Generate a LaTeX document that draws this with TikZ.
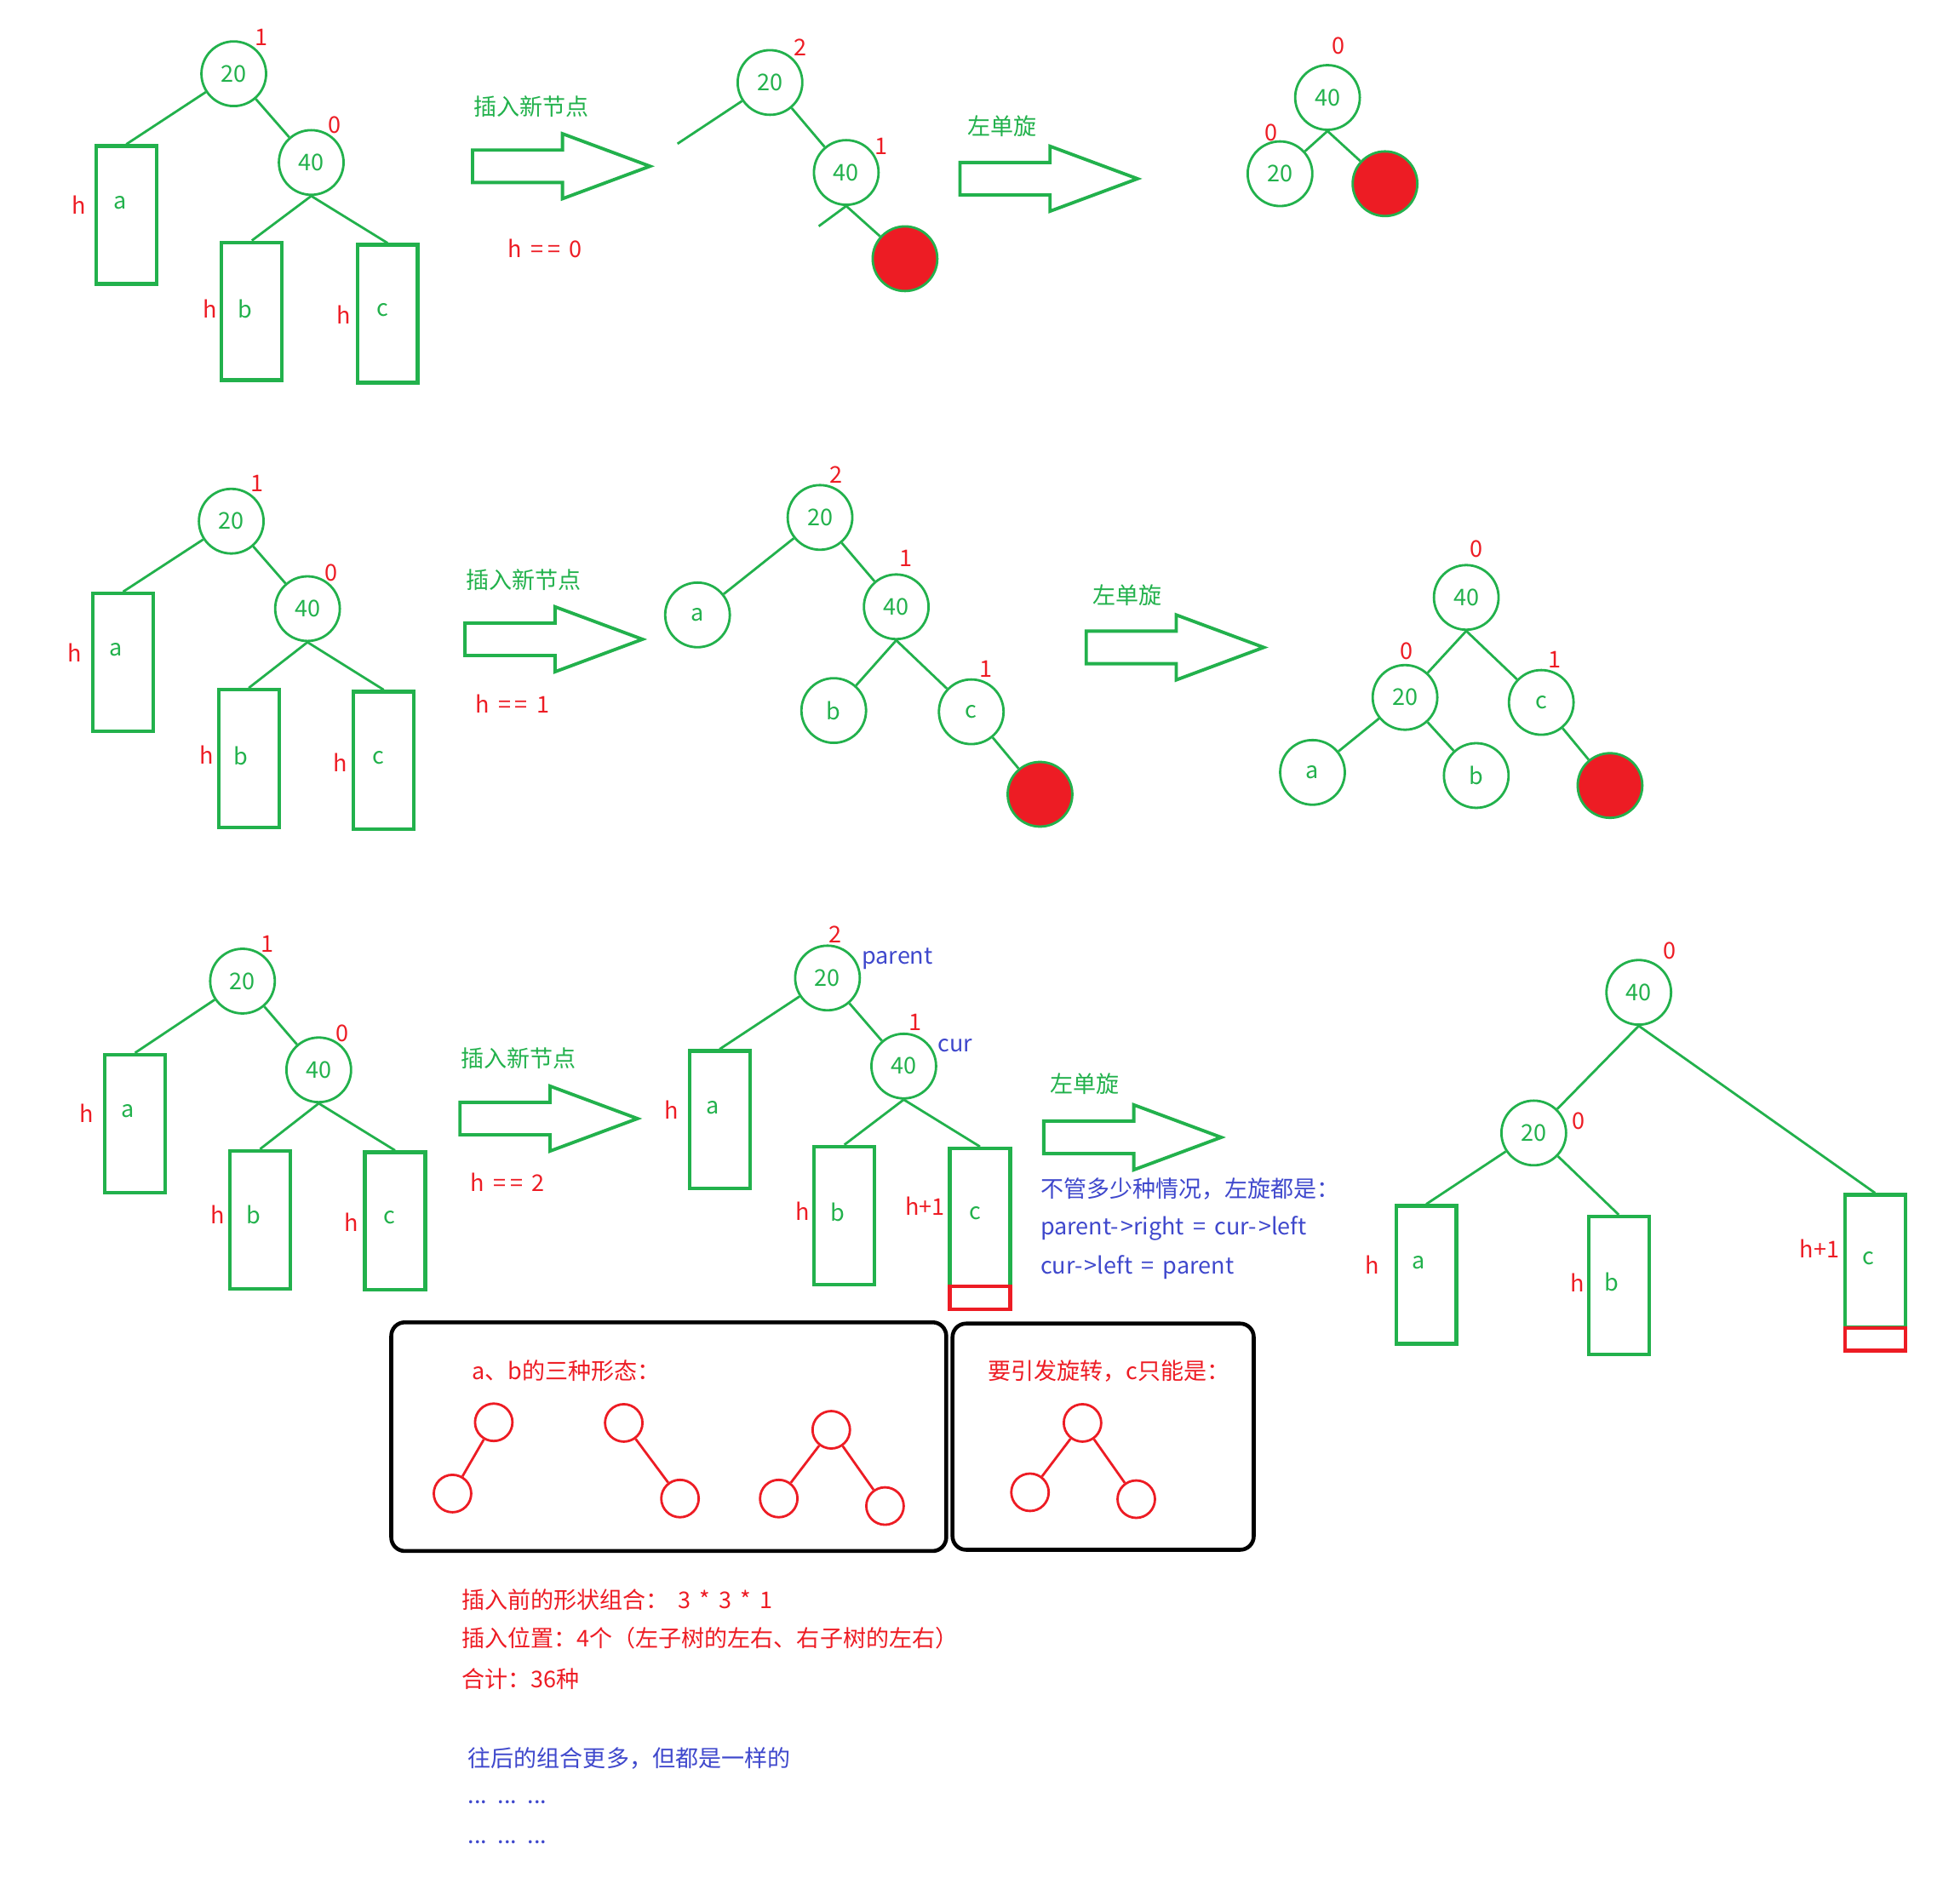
\documentclass[tikz,border=0pt]{standalone}
\usepackage{fontspec}
\setmainfont[WordSpace=1.7]{Noto Sans CJK SC}
\usepackage{xcolor}
\usepackage{tikz}
\definecolor{verde}{RGB}{34,177,76}
\definecolor{vermelho}{RGB}{237,28,36}
\definecolor{azul}{RGB}{63,72,204}

\begin{document}
\begin{tikzpicture}[x=0.0147cm, y=-0.0147cm,
  nd/.style={circle, draw=verde, line width=0.8pt, minimum size=0.76cm, inner sep=0pt, text=verde, font=\fontsize{7.7}{9}\selectfont},
  novo/.style={nd, fill=vermelho},
  sub/.style={draw=verde, line width=1.2pt, minimum width=0.71cm, minimum height=1.62cm, inner sep=0pt},
  sobra/.style={draw=vermelho, line width=1.2pt, minimum width=0.71cm, minimum height=0.27cm, inner sep=0pt},
  mini/.style={circle, draw=vermelho, line width=0.8pt, minimum size=0.44cm, inner sep=0pt},
  ramo/.style={verde, line width=0.8pt},
  seta/.style={draw=verde, line width=1.1pt, line join=miter},
  caixa/.style={draw=black, line width=1.3pt, rounded corners=0.16cm},
  tv/.style={text=verde, inner sep=0pt, font=\fontsize{7.7}{9}\selectfont},
  tr/.style={text=vermelho, inner sep=0pt, font=\fontsize{7.7}{9}\selectfont},
  ta/.style={text=azul, inner sep=0pt, font=\fontsize{7.7}{9}\selectfont}]
  \useasboundingbox (0,0) rectangle (1568,1516);
  % ---- linha 1: h == 0 ----
  \node[nd] (a20) at (187,59) {20};
  \node[nd] (a40) at (249,130) {40};
  \node[sub] (aa) at (101,172) {};
  \node[sub] (ab) at (201.5,249) {};
  \node[sub] (ac) at (310,251) {};
  \draw[ramo] (a20) -- (aa.north);
  \draw[ramo] (a20) -- (a40);
  \draw[ramo] (a40.south) -- (ab.north);
  \draw[ramo] (a40.south) -- (ac.north);
  \node[tr] (a20f) at (209,30) {1};
  \node[tr] (a40f) at (268,100) {0};
  \node[tv] (aal) at (96,162) {a};
  \node[tv] (abl) at (196,247) {b};
  \node[tv] (acl) at (306,248) {c};
  \node[tr] (aah) at (63,164) {h};
  \node[tr] (abh) at (168,247) {h};
  \node[tr] (ach) at (275,252) {h};
  \node[tv] (ains) at (425,85) {插入新节点};
  \draw[seta] (378,120) -- ++(72,0) -- ++(0,-13) -- ++(70,26) -- ++(-70,26) -- ++(0,-13) -- ++(-72,0) -- cycle;
  \node[tr] (ah) at (436,199) {h =\,= 0};
  % depois da insercao
  \node[nd] (b20) at (616,66) {20};
  \node[nd] (b40) at (677,138) {40};
  \node[novo] (bn) at (724,207) {};
  \coordinate (b20e) at (542,115);
  \coordinate (b40e) at (655,181);
  \draw[ramo] (b20) -- (b20e);
  \draw[ramo] (b20) -- (b40);
  \draw[ramo] (b40.south) -- (b40e);
  \draw[ramo] (b40.south) -- (bn);
  \node[tr] (b20f) at (640,38) {2};
  \node[tr] (b40f) at (705,117) {1};
  \node[tv] (brot) at (802,101) {左单旋};
  \draw[seta] (768,130) -- ++(72,0) -- ++(0,-13) -- ++(70,26) -- ++(-70,26) -- ++(0,-13) -- ++(-72,0) -- cycle;
  % depois da rotacao
  \node[nd] (c40) at (1062,78) {40};
  \node[nd] (c20) at (1024,139) {20};
  \node[novo] (cn) at (1108,147) {};
  \draw[ramo] (c40.south) -- (c20);
  \draw[ramo] (c40.south) -- (cn);
  \node[tr] (c40f) at (1071,37) {0};
  \node[tr] (c20f) at (1017,106) {0};
  % ---- linha 2: h == 1 ----
  \node[nd] (d20) at (185,417) {20};
  \node[nd] (d40) at (246,487) {40};
  \node[sub] (da) at (98.5,530) {};
  \node[sub] (db) at (199,607) {};
  \node[sub] (dc) at (307,608.5) {};
  \draw[ramo] (d20) -- (da.north);
  \draw[ramo] (d20) -- (d40);
  \draw[ramo] (d40.south) -- (db.north);
  \draw[ramo] (d40.south) -- (dc.north);
  \node[tr] (d20f) at (206,387) {1};
  \node[tr] (d40f) at (265,458) {0};
  \node[tv] (dal) at (93,520) {a};
  \node[tv] (dbl) at (193,605) {b};
  \node[tv] (dcl) at (303,606) {c};
  \node[tr] (dah) at (60,522) {h};
  \node[tr] (dbh) at (165,604) {h};
  \node[tr] (dch) at (272,610) {h};
  \node[tv] (dins) at (419,464) {插入新节点};
  \draw[seta] (372,498.5) -- ++(72,0) -- ++(0,-13) -- ++(70,26) -- ++(-70,26) -- ++(0,-13) -- ++(-72,0) -- cycle;
  \node[tr] (dh) at (410,563) {h =\,= 1};
  % depois da insercao
  \node[nd] (e20) at (656,414) {20};
  \node[nd] (ea) at (558,492) {a};
  \node[nd] (e40) at (717,485.5) {40};
  \node[nd] (eb) at (667,568.5) {b};
  \node[nd] (ec) at (777,569.5) {c};
  \node[novo] (en) at (832,635.5) {};
  \draw[ramo] (e20) -- (ea);
  \draw[ramo] (e20) -- (e40);
  \draw[ramo] (e40.south) -- (eb);
  \draw[ramo] (e40.south) -- (ec);
  \draw[ramo] (ec) -- (en);
  \node[tr] (e20f) at (669,380) {2};
  \node[tr] (e40f) at (725,447) {1};
  \node[tr] (ecf) at (789,535) {1};
  \node[tv] (erot) at (902,476) {左单旋};
  \draw[seta] (869,505) -- ++(72,0) -- ++(0,-13) -- ++(70,26) -- ++(-70,26) -- ++(0,-13) -- ++(-72,0) -- cycle;
  % depois da rotacao
  \node[nd] (f40) at (1173,478) {40};
  \node[nd] (f20) at (1124,558) {20};
  \node[nd] (fc) at (1233,562) {c};
  \node[nd] (fa) at (1050,618) {a};
  \node[nd] (fb) at (1181,620.5) {b};
  \node[novo] (fn) at (1288,628.5) {};
  \draw[ramo] (f40.south) -- (f20);
  \draw[ramo] (f40.south) -- (fc);
  \draw[ramo] (f20) -- (fa);
  \draw[ramo] (f20) -- (fb);
  \draw[ramo] (fc) -- (fn);
  \node[tr] (f40f) at (1181,439) {0};
  \node[tr] (f20f) at (1125,521) {0};
  \node[tr] (fcf) at (1244,528) {1};
  % ---- linha 3: h == 2 ----
  \node[nd] (g20) at (194,785) {20};
  \node[nd] (g40) at (255,856) {40};
  \node[sub] (ga) at (108,899) {};
  \node[sub] (gb) at (208,976) {};
  \node[sub] (gc) at (316,977) {};
  \draw[ramo] (g20) -- (ga.north);
  \draw[ramo] (g20) -- (g40);
  \draw[ramo] (g40.south) -- (gb.north);
  \draw[ramo] (g40.south) -- (gc.north);
  \node[tr] (g20f) at (214,755.5) {1};
  \node[tr] (g40f) at (274,826.5) {0};
  \node[tv] (gal) at (102,889) {a};
  \node[tv] (gbl) at (202.6,972) {b};
  \node[tv] (gcl) at (311.7,974) {c};
  \node[tr] (gah) at (69,891) {h};
  \node[tr] (gbh) at (174,972) {h};
  \node[tr] (gch) at (281,978) {h};
  \node[tv] (gins) at (415,847) {插入新节点};
  \draw[seta] (368,882) -- ++(72,0) -- ++(0,-13) -- ++(70,26) -- ++(-70,26) -- ++(0,-13) -- ++(-72,0) -- cycle;
  \node[tr] (gh) at (406,946) {h =\,= 2};
  % depois da insercao
  \node[nd] (h20) at (662,782.5) {20};
  \node[nd] (h40) at (723,853) {40};
  \node[sub] (ha) at (575.7,896) {};
  \node[sub] (hb) at (675.5,972.5) {};
  \node[sub] (hc) at (784,974) {};
  \node[sobra] (hx) at (784,1038.5) {};
  \draw[ramo] (h20) -- (ha.north);
  \draw[ramo] (h20) -- (h40);
  \draw[ramo] (h40.south) -- (hb.north);
  \draw[ramo] (h40.south) -- (hc.north);
  \node[tr] (h20f) at (668,748) {2};
  \node[tr] (h40f) at (732,818) {1};
  \node[ta, anchor=west] (hpar) at (689,767) {parent};
  \node[ta, anchor=west] (hcur) at (750,836.5) {cur};
  \node[tv] (hal) at (570,886) {a};
  \node[tr] (hah) at (537,888) {h};
  \node[tv] (hbl) at (670,970) {b};
  \node[tr] (hbh) at (642,969) {h};
  \node[tv] (hcl) at (780,971) {c};
  \node[tr] (hch) at (740,965) {h+1};
  \node[tv] (hrot) at (868,867) {左单旋};
  \draw[seta] (835,897) -- ++(72,0) -- ++(0,-13) -- ++(70,26) -- ++(-70,26) -- ++(0,-13) -- ++(-72,0) -- cycle;
  \node[ta, anchor=west] (hreg1) at (832,951) {不管多少种情况，左旋都是：};
  \node[ta, anchor=west] (hreg2) at (832,983) {parent-\kern0.08em>right = cur-\kern0.08em>left};
  \node[ta, anchor=west] (hreg3) at (832,1014) {cur-\kern0.08em>left = parent};
  % depois da rotacao
  \node[nd] (i40) at (1311,794) {40};
  \node[nd] (i20) at (1227,906.5) {20};
  \node[sub] (ia) at (1141,1020) {};
  \node[sub] (ib) at (1295,1028.5) {};
  \node[sub, minimum height=1.56cm] (ic) at (1500,1009) {};
  \node[sobra] (ix) at (1500,1071.5) {};
  \draw[ramo] (i40.south) -- (i20);
  \draw[ramo] (i40.south) -- (ic.north);
  \draw[ramo] (i20) -- (ia.north);
  \draw[ramo] (i20) -- (ib.north);
  \node[tr] (i40f) at (1336,761) {0};
  \node[tr] (i20f) at (1263,897) {0};
  \node[tv] (ial) at (1135,1010) {a};
  \node[tr] (iah) at (1098,1012) {h};
  \node[tv] (ibl) at (1289.5,1026) {b};
  \node[tr] (ibh) at (1262,1026) {h};
  \node[tv] (icl) at (1495,1007) {c};
  \node[tr] (ich) at (1455.5,999) {h+1};
  % ---- formas de a, b e c ----
  \draw[caixa] (313,1058) rectangle (757,1241);
  \draw[caixa] (762,1059) rectangle (1003,1240);
  \node[tr, anchor=west] (jtit) at (377,1097) {a、b的三种形态：};
  \node[mini] (j1t) at (395,1138) {};
  \node[mini] (j1l) at (362,1195) {};
  \node[mini] (j2t) at (499,1138.5) {};
  \node[mini] (j2r) at (544,1199) {};
  \node[mini] (j3t) at (665,1144) {};
  \node[mini] (j3l) at (623,1199) {};
  \node[mini] (j3r) at (708,1205) {};
  \draw[vermelho, line width=0.8pt] (j1t) -- (j1l);
  \draw[vermelho, line width=0.8pt] (j2t) -- (j2r);
  \draw[vermelho, line width=0.8pt] (j3t) -- (j3l);
  \draw[vermelho, line width=0.8pt] (j3t) -- (j3r);
  \node[tr, anchor=west] (ktit) at (790,1097) {要引发旋转，c只能是：};
  \node[mini] (kt) at (866,1138.5) {};
  \node[mini] (kl) at (824,1194) {};
  \node[mini] (kr) at (909,1199.5) {};
  \draw[vermelho, line width=0.8pt] (kt) -- (kl);
  \draw[vermelho, line width=0.8pt] (kt) -- (kr);
  % ---- contagem ----
  \node[tr, anchor=west] (m1) at (369,1280) {插入前的形状组合： 3 * 3 * 1};
  \node[tr, anchor=west] (m2) at (369,1311) {插入位置：4个（左子树的左右、右子树的左右）};
  \node[tr, anchor=west] (m3) at (369,1343) {合计：36种};
  \node[ta, anchor=west] (m4) at (374,1407) {往后的组合更多，但都是一样的};
  \node[ta, anchor=west] (m5) at (374,1442) {... ... ...};
  \node[ta, anchor=west] (m6) at (374,1474) {... ... ...};
\end{tikzpicture}
\end{document}
